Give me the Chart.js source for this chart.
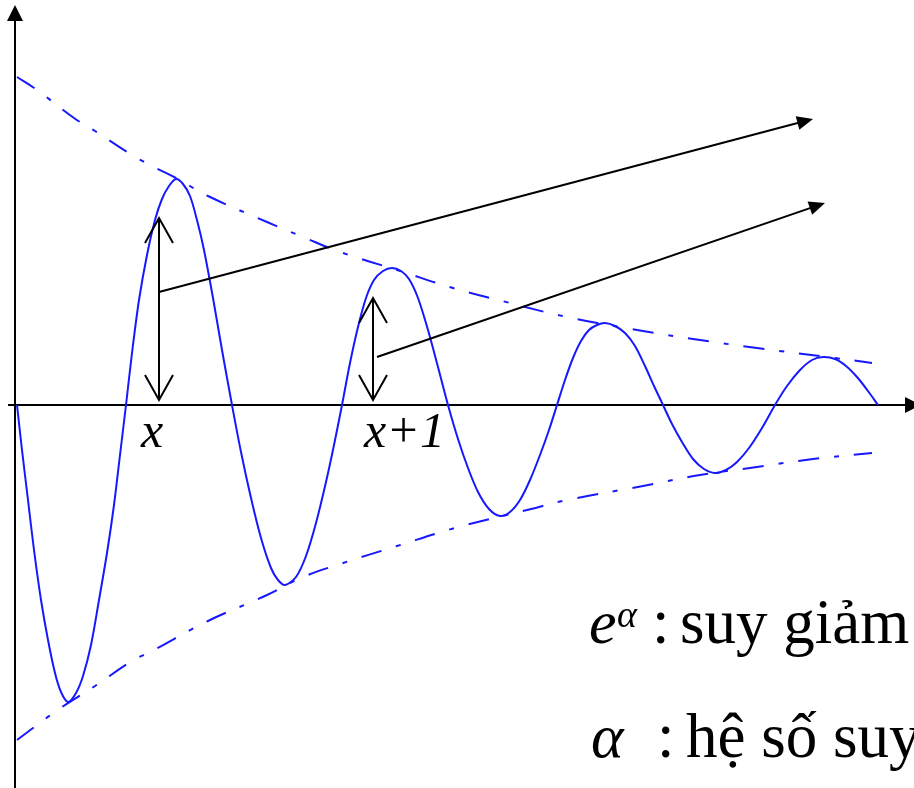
<!DOCTYPE html>
<html>
<head>
<meta charset="utf-8">
<title>Dao động tắt dần</title>
<script src="https://cdn.jsdelivr.net/npm/chart.js@4.4.1/dist/chart.umd.min.js"></script>
<style>
    html, body { margin: 0; padding: 0; background: #ffffff; }
    #waveChart { display: block; }
</style>
</head>
<body>
<canvas id="waveChart" width="914" height="788"></canvas>
<script>
// Damped oscillation samples (x = time, y = amplitude)
const curveX = [0.02, 0.07, 0.13, 0.19, 0.26, 0.33, 0.40, 0.46, 0.53,
    0.61, 0.68, 0.76, 0.84, 0.92, 0.99, 1.05, 1.11,
    1.17, 1.24, 1.32, 1.40, 1.47, 1.54, 1.61,
    1.68, 1.75, 1.82, 1.89, 1.98, 2.07, 2.17,
    2.26, 2.36, 2.46, 2.56, 2.63, 2.70,
    2.81, 2.91, 3.01, 3.11, 3.19, 3.27,
    3.35, 3.43, 3.51, 3.59, 3.68, 3.77,
    3.86, 3.94, 4.03, 4.13, 4.23, 4.33,
    4.43, 4.53, 4.63, 4.74, 4.85,
    4.95, 5.05, 5.15, 5.25, 5.34, 5.42,
    5.50, 5.58, 5.66, 5.74, 5.82, 5.90,
    6.00, 6.10, 6.20, 6.30, 6.39, 6.48,
    6.57, 6.67, 6.78, 6.89, 7.00,
    7.11, 7.22, 7.34, 7.47, 7.60,
    7.72, 7.85, 7.97, 8.08,
    8.20, 8.31, 8.42, 8.53, 8.63];
const curveY = [0, -0.45, -0.95, -1.45, -1.95, -2.35, -2.68, -2.87, -2.97,
    -2.88, -2.71, -2.40, -1.95, -1.48, -1.00, -0.50, 0,
    0.52, 1.05, 1.50, 1.85, 2.06, 2.19, 2.26,
    2.21, 2.09, 1.85, 1.55, 1.07, 0.55, 0,
    -0.47, -0.93, -1.33, -1.63, -1.75, -1.80,
    -1.72, -1.51, -1.18, -0.77, -0.40, 0,
    0.42, 0.78, 1.07, 1.25, 1.34, 1.37,
    1.34, 1.26, 1.07, 0.75, 0.38, 0,
    -0.34, -0.63, -0.87, -1.04, -1.11,
    -1.07, -0.95, -0.75, -0.50, -0.25, 0,
    0.25, 0.47, 0.64, 0.75, 0.80, 0.82,
    0.79, 0.72, 0.59, 0.39, 0.19, 0,
    -0.19, -0.37, -0.54, -0.64, -0.68,
    -0.65, -0.57, -0.43, -0.23, 0,
    0.19, 0.35, 0.45, 0.48,
    0.46, 0.39, 0.28, 0.14, 0];

// Upper and lower decay envelopes
const upperX = [0.02, 0.22, 0.59, 0.80, 1.17, 1.37, 1.61, 1.93, 2.52, 2.88, 3.25, 3.82, 4.38, 4.95, 5.52, 6.28, 6.85, 7.42, 8.20, 8.57];
const upperY = [3.28, 3.15, 2.87, 2.74, 2.50, 2.39, 2.27, 2.09, 1.83, 1.68, 1.53, 1.35, 1.17, 1.02, 0.88, 0.74, 0.65, 0.57, 0.47, 0.42];
const lowerX = [0.02, 0.22, 0.44, 0.80, 1.17, 1.37, 1.93, 2.52, 2.88, 3.25, 3.82, 4.40, 5.12, 5.52, 6.28, 6.85, 7.42, 7.98, 8.57];
const lowerY = [-3.35, -3.20, -3.04, -2.81, -2.56, -2.46, -2.16, -1.90, -1.72, -1.59, -1.41, -1.23, -1.05, -0.95, -0.81, -0.70, -0.62, -0.54, -0.48];

// Amplitude markers at x and x+1
const markerX = [1.44, 3.58];
const markerTop = [1.87, 1.07];
const markerBottom = [0.05, 0.05];
const markerNames = ['x', 'x+1'];

// Pointer arrows leading off to the right
const pointerFrom = [[1.44, 1.13], [3.62, 0.48]];
const pointerTo = [[7.98, 2.86], [8.10, 2.02]];

const BLUE = 'rgb(24, 24, 255)';
const SERIF = '"Liberation Serif", "Times New Roman", serif';

function toPoints(xs, ys) {
    return xs.map((x, i) => ({ x: x, y: ys[i] }));
}

// Filled triangle arrow head
function fillHead(ctx, x1, y1, x2, y2, len, half) {
    const a = Math.atan2(y2 - y1, x2 - x1);
    ctx.beginPath();
    ctx.moveTo(x2, y2);
    ctx.lineTo(x2 - len * Math.cos(a) + half * Math.sin(a), y2 - len * Math.sin(a) - half * Math.cos(a));
    ctx.lineTo(x2 - len * Math.cos(a) - half * Math.sin(a), y2 - len * Math.sin(a) + half * Math.cos(a));
    ctx.closePath();
    ctx.fill();
}

// Open "V" arrow head
function openHead(ctx, x, y, dir) {
    ctx.beginPath();
    ctx.moveTo(x - 14, y + dir * 25);
    ctx.lineTo(x, y);
    ctx.lineTo(x + 14, y + dir * 25);
    ctx.stroke();
}

const axesPlugin = {
    id: 'axesPlugin',
    beforeDatasetsDraw(chart) {
        const ctx = chart.ctx;
        const sx = chart.scales.x, sy = chart.scales.y;
        const ox = sx.getPixelForValue(0), oy = sy.getPixelForValue(0);
        ctx.save();
        ctx.strokeStyle = '#000';
        ctx.fillStyle = '#000';
        ctx.lineWidth = 2;
        // vertical axis
        ctx.beginPath();
        ctx.moveTo(ox, chart.height);
        ctx.lineTo(ox, sy.getPixelForValue(3.86));
        ctx.stroke();
        fillHead(ctx, ox, oy, ox, sy.getPixelForValue(4.0), 16, 8);
        // horizontal axis
        ctx.beginPath();
        ctx.moveTo(sx.getPixelForValue(-0.07), oy);
        ctx.lineTo(sx.getPixelForValue(8.92), oy);
        ctx.stroke();
        fillHead(ctx, ox, oy, sx.getPixelForValue(9.06), oy, 16, 8);
        ctx.restore();
    }
};

const notesPlugin = {
    id: 'notesPlugin',
    afterDatasetsDraw(chart) {
        const ctx = chart.ctx;
        const sx = chart.scales.x, sy = chart.scales.y;
        const px = v => sx.getPixelForValue(v);
        const py = v => sy.getPixelForValue(v);
        ctx.save();
        ctx.strokeStyle = '#000';
        ctx.fillStyle = '#000';
        ctx.lineWidth = 2;

        // double arrows showing amplitude at x and x+1
        markerX.forEach((mx, i) => {
            const x = px(mx), top = py(markerTop[i]), bottom = py(markerBottom[i]);
            ctx.beginPath();
            ctx.moveTo(x, top);
            ctx.lineTo(x, bottom);
            ctx.stroke();
            openHead(ctx, x, top, 1);
            openHead(ctx, x, bottom, -1);
        });

        // long pointers
        pointerFrom.forEach((from, i) => {
            const x1 = px(from[0]), y1 = py(from[1]);
            const x2 = px(pointerTo[i][0]), y2 = py(pointerTo[i][1]);
            const a = Math.atan2(y2 - y1, x2 - x1);
            ctx.beginPath();
            ctx.moveTo(x1, y1);
            ctx.lineTo(x2 - 12 * Math.cos(a), y2 - 12 * Math.sin(a));
            ctx.stroke();
            fillHead(ctx, x1, y1, x2, y2, 16, 7);
        });

        // x / x+1 labels
        ctx.textBaseline = 'alphabetic';
        ctx.textAlign = 'left';
        ctx.font = 'italic 50px ' + SERIF;
        ctx.fillText(markerNames[0], px(1.26), py(-0.42));
        ctx.fillText(markerNames[1], px(3.49), py(-0.42));

        // legend text at the bottom right
        ctx.font = 'italic 62px ' + SERIF;
        ctx.fillText('e', px(5.74), py(-2.38));
        ctx.font = 'italic 38px ' + SERIF;
        ctx.fillText('α', px(6.02), py(-2.22));
        ctx.font = '63px ' + SERIF;
        ctx.fillText(':', px(6.37), py(-2.38));
        ctx.fillText('suy giảm', px(6.65), py(-2.38));

        ctx.font = 'italic 62px ' + SERIF;
        ctx.fillText('α', px(5.76), py(-3.52));
        ctx.font = '63px ' + SERIF;
        ctx.fillText(':', px(6.42), py(-3.52));
        ctx.fillText('hệ số suy giảm', px(6.71), py(-3.52));
        ctx.restore();
    }
};

function initializeWaveChart() {
    const ctx = document.getElementById('waveChart');
    if (!ctx) return;

    const envelopeStyle = {
        showLine: true,
        borderColor: BLUE,
        borderWidth: 2,
        borderDash: [21, 15, 5, 15],
        pointRadius: 0,
        tension: 0.4,
        fill: false
    };

    new Chart(ctx, {
        type: 'scatter',
        data: {
            datasets: [
                Object.assign({ label: 'upper', data: toPoints(upperX, upperY) }, envelopeStyle),
                Object.assign({ label: 'lower', data: toPoints(lowerX, lowerY) }, envelopeStyle),
                {
                    label: 'wave',
                    data: toPoints(curveX, curveY),
                    showLine: true,
                    borderColor: BLUE,
                    borderWidth: 2,
                    pointRadius: 0,
                    tension: 0.3,
                    fill: false
                }
            ]
        },
        options: {
            responsive: false,
            devicePixelRatio: 1,
            animation: false,
            layout: { padding: 0 },
            scales: {
                x: { type: 'linear', min: -0.15, max: 8.99, display: false },
                y: { type: 'linear', min: -3.83, max: 4.05, display: false }
            },
            plugins: {
                legend: { display: false },
                tooltip: { enabled: false }
            }
        },
        plugins: [axesPlugin, notesPlugin]
    });
}

document.addEventListener('DOMContentLoaded', initializeWaveChart);
</script>
</body>
</html>
